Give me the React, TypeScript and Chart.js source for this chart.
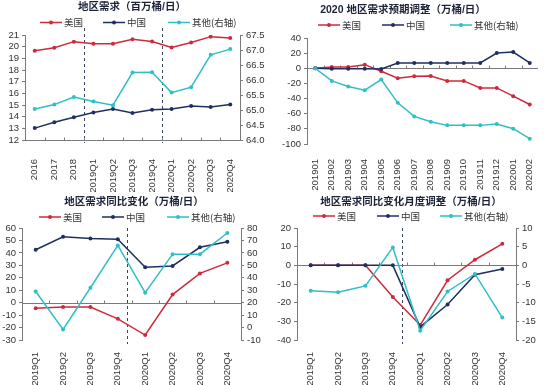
import React, { useEffect, useRef } from 'react';
import { Chart, registerables } from 'chart.js';

Chart.register(...registerables);

// ---------- data ----------
const seriesNames = ['美国', '中国', '其他(右轴)'];

// Chart 1: 地区需求（百万桶/日）
const cats1 = ['2016', '2017', '2018', '2019Q1', '2019Q2', '2019Q3', '2019Q4', '2020Q1', '2020Q2', '2020Q3', '2020Q4'];
const us1 = [19.65, 19.9, 20.43, 20.25, 20.25, 20.63, 20.45, 19.93, 20.35, 20.86, 20.75];
const cn1 = [13.02, 13.52, 13.95, 14.35, 14.65, 14.32, 14.6, 14.65, 14.92, 14.82, 15.05];
const other1 = [65.03, 65.18, 65.43, 65.28, 65.16, 66.25, 66.26, 65.58, 65.76, 66.84, 67.03];

// Chart 2: 2020 地区需求预期调整（万桶/日）
const cats2 = ['201901', '201902', '201903', '201904', '201905', '201906', '201907', '201908', '201909', '201910', '201911', '201912', '202001', '202002'];
const us2 = [0, 1.8, 1.8, 4.8, -3.9, -13.2, -10.5, -10.1, -16.7, -16.7, -25.9, -25.9, -36.8, -47.8];
const cn2 = [0, -0.5, -0.5, -0.5, -1, 7, 7, 7, 7, 7, 7, 20.2, 21.5, 7];
const other2 = [0, -16.7, -24.1, -29, -14.9, -45.6, -63.6, -70.6, -75.4, -75.4, -75.4, -73.7, -79.8, -93];

// Chart 3: 地区需求同比变化（万桶/日）
const cats3 = ['2019Q1', '2019Q2', '2019Q3', '2019Q4', '2020Q1', '2020Q2', '2020Q3', '2020Q4'];
const us3 = [-4.5, -3.5, -3.5, -13, -26, 6.5, 23.5, 32];
const cn3 = [42.5, 53, 51.5, 51, 28.5, 29.5, 44.5, 49];
const other3 = [29, -1.5, 32, 66, 28, 59, 59, 76];

// Chart 4: 地区需求同比变化月度调整（万桶/日）
const cats4 = ['2019Q1', '2019Q2', '2019Q3', '2019Q4', '2020Q1', '2020Q2', '2020Q3', '2020Q4'];
const us4 = [0, 0, 0, -17, -32, -8, 3, 11.5];
const cn4 = [0, 0, 0, 0, -33, -21, -5, -2];
const other4 = [-6.8, -7.2, -5.5, 4.8, -17.5, -7, -2.3, -14];

// ---------- styles ----------
const RED = '#cf2a3c';
const NAVY = '#1f3060';
const TEAL = '#2fbfc7';
const AXIS = '#7a7a7a';
const TEXT = '#333333';
const NUMFONT = "'Liberation Sans', Arial, 'Noto Sans CJK SC', sans-serif";
const CJKFONT = "'Noto Sans CJK SC', 'Liberation Sans', sans-serif";
const TITLEFONT = "'Liberation Sans', 'Noto Sans CJK SC', sans-serif";

type Axis = { min: number; max: number; step: number; width: number; dec?: number };
type Cfg = {
  title: string; titleX: number; titleY: number;
  legendX: number[]; legendY: number;
  labels: string[];
  data: number[][];
  rightAxisForOther: boolean;
  left: Axis; right?: Axis;
  padTop: number; padRight: number;
  xHeight: number; xPad: number;
  base: number; dashes: number[]; dashTop: number; dashBottom: number;
};

const decorPlugin = {
  id: 'decor',
  beforeDatasetsDraw(chart: any, _args: any, opts: any) {
    const { ctx, chartArea: a } = chart;
    const ys = chart.scales.y;
    const n = chart.data.labels.length;
    const step = (a.right - a.left) / n;
    ctx.save();
    ctx.strokeStyle = '#3a4560';
    ctx.lineWidth = 1;
    ctx.setLineDash([3, 3]);
    for (const d of opts.dashes as number[]) {
      const x = Math.round(a.left + d * step) + 0.5;
      ctx.beginPath();
      ctx.moveTo(x, a.top - opts.dashTop);
      ctx.lineTo(x, a.bottom + opts.dashBottom);
      ctx.stroke();
    }
    ctx.setLineDash([]);
    const y0 = Math.round(ys.getPixelForValue(opts.base)) + 0.5;
    ctx.strokeStyle = AXIS;
    ctx.beginPath();
    ctx.moveTo(a.left, y0);
    ctx.lineTo(a.right, y0);
    for (let i = 1; i < n; i++) {
      const bx = Math.round(a.left + i * step) + 0.5;
      ctx.moveTo(bx, y0);
      ctx.lineTo(bx, y0 - 3);
    }
    ctx.stroke();
    ctx.restore();
  },
  afterDraw(chart: any, _args: any, opts: any) {
    const { ctx } = chart;
    ctx.save();
    ctx.fillStyle = '#1c2238';
    ctx.font = `bold 10.5px ${TITLEFONT}`;
    ctx.textAlign = 'center';
    ctx.textBaseline = 'middle';
    ctx.fillText(opts.title, opts.titleX, opts.titleY);
    ctx.font = `9.5px ${CJKFONT}`;
    ctx.textAlign = 'left';
    chart.data.datasets.forEach((ds: any, i: number) => {
      const x = opts.legendX[i];
      const y = opts.legendY;
      ctx.strokeStyle = ds.borderColor;
      ctx.lineWidth = 1.5;
      ctx.beginPath();
      ctx.moveTo(x, y);
      ctx.lineTo(x + 22, y);
      ctx.stroke();
      ctx.fillStyle = ds.borderColor;
      ctx.beginPath();
      ctx.arc(x + 11, y, 2, 0, Math.PI * 2);
      ctx.fill();
      ctx.fillStyle = TEXT;
      ctx.fillText(ds.label, x + 24, y);
    });
    ctx.restore();
  },
};

function yScale(ax: Axis, pos: 'left' | 'right') {
  return {
    type: 'linear',
    position: pos,
    min: ax.min,
    max: ax.max,
    ticks: {
      stepSize: ax.step,
      autoSkip: false,
      font: { family: NUMFONT, size: 9.5 },
      color: TEXT,
      padding: 3,
      callback: (v: any) => (ax.dec ? Number(v).toFixed(ax.dec) : String(Math.round(Number(v) * 100) / 100)),
    },
    grid: { display: true, drawOnChartArea: false, drawTicks: true, tickLength: 3, color: AXIS, lineWidth: 1 },
    border: { display: true, color: AXIS, width: 1 },
    afterFit: (s: any) => { s.width = ax.width; },
  };
}

function buildConfig(c: Cfg): any {
  const colors = [RED, NAVY, TEAL];
  const orders = [2, 1, 0];
  const datasets = c.data.map((d, i) => ({
    label: seriesNames[i],
    data: d,
    borderColor: colors[i],
    backgroundColor: colors[i],
    borderWidth: 1.5,
    pointRadius: 2,
    pointHoverRadius: 2,
    pointBorderWidth: 0,
    pointStyle: 'circle',
    tension: 0,
    fill: false,
    order: orders[i],
    yAxisID: i === 2 && c.rightAxisForOther ? 'y1' : 'y',
  }));
  const scales: any = {
    x: {
      type: 'category',
      offset: true,
      grid: { display: false },
      border: { display: false },
      ticks: {
        minRotation: 90, maxRotation: 90, autoSkip: false,
        font: { family: NUMFONT, size: 9.5 }, color: TEXT, padding: c.xPad,
      },
      afterFit: (s: any) => { s.height = c.xHeight; },
    },
    y: yScale(c.left, 'left'),
  };
  if (c.right) scales.y1 = yScale(c.right, 'right');
  return {
    type: 'line',
    data: { labels: c.labels, datasets },
    options: {
      responsive: false,
      animation: false,
      devicePixelRatio: 1,
      layout: { padding: { top: c.padTop, right: c.padRight, left: 0, bottom: 0 } },
      scales,
      plugins: {
        legend: { display: false },
        title: { display: false },
        tooltip: { enabled: false },
        decor: {
          title: c.title, titleX: c.titleX, titleY: c.titleY,
          legendX: c.legendX, legendY: c.legendY,
          base: c.base, dashes: c.dashes, dashTop: c.dashTop, dashBottom: c.dashBottom,
        },
      },
    },
    plugins: [decorPlugin],
  };
}

const cfg1: Cfg = {
  title: '地区需求（百万桶/日）', titleX: 132, titleY: 7,
  legendX: [40, 103, 168], legendY: 22.5,
  labels: cats1, data: [us1, cn1, other1], rightAxisForOther: true,
  left: { min: 12, max: 21, step: 1, width: 25 },
  right: { min: 64, max: 67.5, step: 0.5, width: 35, dec: 1 },
  padTop: 35, padRight: 0, xHeight: 52, xPad: 11,
  base: 12, dashes: [3, 7], dashTop: 7, dashBottom: 3,
};
const cfg2: Cfg = {
  title: '2020 地区需求预期调整（万桶/日）', titleX: 128, titleY: 10,
  legendX: [43, 107, 175], legendY: 25,
  labels: cats2, data: [us2, cn2, other2], rightAxisForOther: false,
  left: { min: -100, max: 40, step: 20, width: 32 },
  padTop: 38, padRight: 12, xHeight: 48, xPad: 7,
  base: 0, dashes: [], dashTop: 0, dashBottom: 0,
};
const cfg3: Cfg = {
  title: '地区需求同比变化（万桶/日）', titleX: 134, titleY: 10,
  legendX: [39, 102, 167], legendY: 25,
  labels: cats3, data: [us3, cn3, other3], rightAxisForOther: true,
  left: { min: -30, max: 60, step: 10, width: 22 },
  right: { min: -10, max: 80, step: 10, width: 34 },
  padTop: 36, padRight: 0, xHeight: 45, xPad: 4,
  base: 0, dashes: [3.83], dashTop: 0, dashBottom: 4,
};
const cfg4: Cfg = {
  title: '地区需求同比变化月度调整（万桶/日）', titleX: 136, titleY: 10,
  legendX: [38, 102, 165], legendY: 24,
  labels: cats4, data: [us4, cn4, other4], rightAxisForOther: true,
  left: { min: -40, max: 20, step: 10, width: 22 },
  right: { min: -20, max: 10, step: 5, width: 34 },
  padTop: 36, padRight: 0, xHeight: 45, xPad: 4,
  base: 0, dashes: [3.83], dashTop: 0, dashBottom: 4,
};

function ChartBox({ cfg, left, top, width, height }: { cfg: Cfg; left: number; top: number; width: number; height: number }) {
  const ref = useRef<HTMLCanvasElement>(null);
  useEffect(() => {
    const chart = new Chart(ref.current as HTMLCanvasElement, buildConfig(cfg));
    return () => chart.destroy();
  }, [cfg]);
  return (
    <div style={{ position: 'absolute', left, top, width, height }}>
      <canvas ref={ref} width={width} height={height} style={{ width, height, display: 'block' }} />
    </div>
  );
}

export default function App() {
  return (
    <div style={{ position: 'fixed', left: 0, top: 0, width: 550, height: 385, background: '#fff', overflow: 'hidden' }}>
      <ChartBox cfg={cfg1} left={0} top={0} width={275} height={192} />
      <ChartBox cfg={cfg2} left={275} top={0} width={275} height={192} />
      <ChartBox cfg={cfg3} left={0} top={192} width={275} height={193} />
      <ChartBox cfg={cfg4} left={275} top={192} width={275} height={193} />
    </div>
  );
}
